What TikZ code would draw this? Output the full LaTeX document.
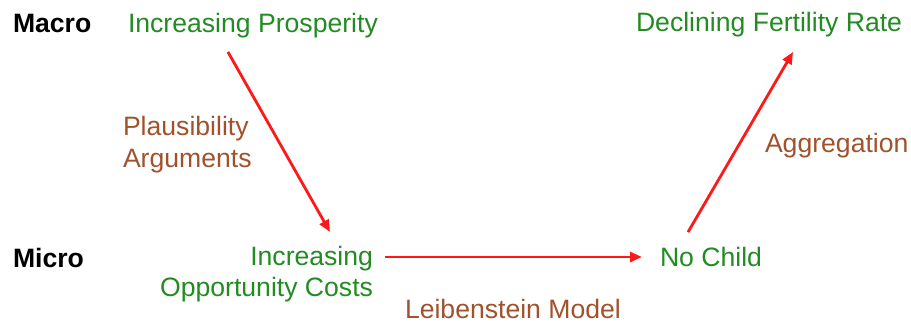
\documentclass[tikz,border=0pt]{standalone}
\usepackage{fontspec}
\setmainfont{Liberation Sans}
\usetikzlibrary{arrows.meta}
\definecolor{leafgreen}{RGB}{34,139,34}
\definecolor{rustbrown}{RGB}{160,82,45}
\definecolor{arrowred}{RGB}{255,24,24}
\tikzset{
  txt/.style={inner sep=0pt, outer sep=0pt, font=\fontsize{26.6}{31.5}\selectfont},
  level/.style={txt, font=\fontsize{26.6}{31.5}\selectfont\bfseries, text=black, anchor=base west},
  state/.style={txt, text=leafgreen},
  mechanism/.style={txt, text=rustbrown},
  link/.style={draw=arrowred, line width=2.8pt, -{Triangle[length=12pt,width=10pt]}},
}
\begin{document}
\begin{tikzpicture}[x=1pt,y=-1pt]
  \useasboundingbox (0,0) rectangle (911,322);

  % level labels
  \node[level] (macro) at (13,32) {Macro};
  \node[level] (micro) at (13,267) {Micro};

  % states
  \node[state, anchor=base west] (ip) at (128,32) {Increasing Prosperity};
  \node[state, anchor=base west] (df) at (636,31) {Declining Fertility Rate};
  \node[state, anchor=north east, align=right] (oc) at (373,246) {Increasing\\Opportunity Costs};
  \node[state, anchor=base west] (nc) at (660,266) {No Child};

  % mechanisms
  \node[mechanism, anchor=base west, align=left] (pa) at (123,167) {Plausibility\\Arguments};
  \node[mechanism, anchor=base west] (lm) at (405,318) {Leibenstein Model};
  \node[mechanism, anchor=base west] (ag) at (765,152) {Aggregation};

  % causal chain
  \coordinate (ocright) at ([xshift=12pt,yshift=-11pt]oc.north east);
  \draw[link] ([xshift=-25pt,yshift=-14.4pt]ip.south) -- ([xshift=-43pt,yshift=14pt]oc.north east);
  \draw[link] (ocright) -- ([xshift=-18pt]ocright -| nc.west);
  \draw[link] ([xshift=-23pt,yshift=14.6pt]nc.north) -- ([xshift=24pt,yshift=-15.4pt]df.south);
\end{tikzpicture}
\end{document}
